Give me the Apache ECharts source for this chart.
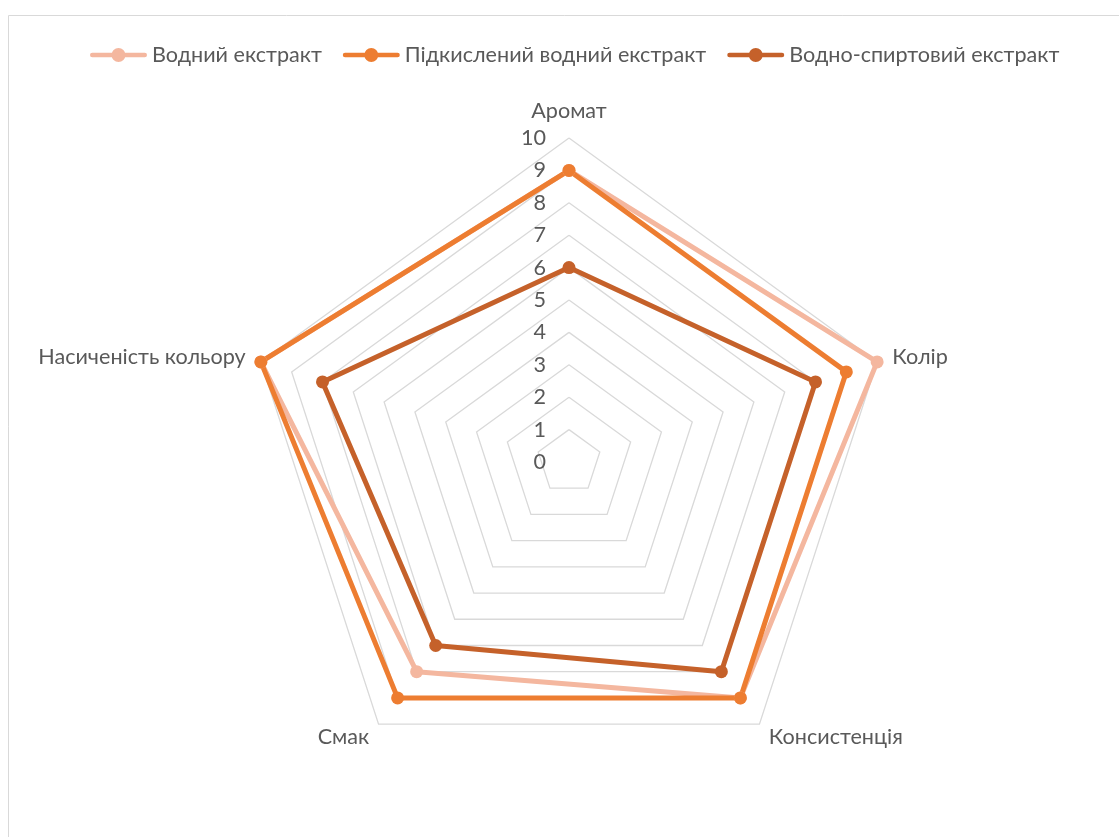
<!DOCTYPE html>
<html><head><meta charset="utf-8">
<script src="https://cdn.jsdelivr.net/npm/echarts@6/dist/echarts.min.js"></script>
<style>html,body{margin:0;padding:0;background:#fff}#c{width:1119px;height:837px}</style>
</head><body><div id="c"></div>
<script>
// Categories in their natural (clockwise) order
const indicators = ['Аромат', 'Колір', 'Консистенція', 'Смак', 'Насиченість кольору'];
const seriesNames = ['Водний екстракт', 'Підкислений водний екстракт', 'Водно-спиртовий екстракт'];
const vodnyi = [9, 10, 9, 8, 10];
const pidkyslenyi = [9, 9, 9, 9, 10];
const vodnoSpyrtovyi = [6, 8, 8, 7, 8];
const axisMax = 10;
const colors = ['#F4B79F', '#ED7D31', '#C5612A'];
const FONT = 'Lato, "Open Sans", sans-serif';

// ECharts radar runs counter-clockwise: keep first, reverse the rest
const toCCW = arr => [arr[0]].concat(arr.slice(1).reverse());

const legendIcon = 'path://M2,4.75 L55,4.75 A2.25,2.25 0 0,1 55,9.25 L2,9.25 A2.25,2.25 0 0,1 2,4.75 Z M21.5,7 A7,7 0 1,1 35.5,7 A7,7 0 1,1 21.5,7 Z';

const chart = echarts.init(document.getElementById('c'));
const dataSets = [vodnyi, pidkyslenyi, vodnoSpyrtovyi];
const labelColor = '#595959';
const FS = 21.6;
chart.setOption({
  animation: false,
  textStyle: {fontFamily: FONT},
  color: colors,
  graphic: [{type: 'rect', shape: {x: 8.5, y: 15.5, width: 1200, height: 900}, style: {fill: 'none', stroke: '#d9d9d9', lineWidth: 1}, silent: true}],
  legend: {
    top: 39, left: 85, itemWidth: 57, itemHeight: 14, itemGap: 21,
    textStyle: {fontSize: FS, color: labelColor, fontFamily: FONT},
    data: seriesNames.map(n => ({name: n, icon: legendIcon}))
  },
  radar: {
    center: [569, 462], radius: 324, startAngle: 90, shape: 'polygon', splitNumber: 10,
    axisName: {color: labelColor, fontSize: FS, fontFamily: FONT},
    nameGap: 16,
    splitArea: {show: false},
    splitLine: {lineStyle: {color: '#d9d9d9', width: 1.3}},
    axisLine: {show: false},
    axisTick: {show: false},
    axisLabel: {show: false},
    indicator: toCCW(indicators).map((n, i) => i === 0
      ? {name: n, min: 0, max: axisMax, axisLabel: {show: true, color: labelColor, fontSize: FS, fontFamily: FONT, margin: 23}}
      : {name: n, min: 0, max: axisMax})
  },
  series: dataSets.map((d, i) => ({
    type: 'radar', name: seriesNames[i],
    symbol: 'circle', symbolSize: 13,
    lineStyle: {width: 5, color: colors[i]},
    itemStyle: {color: colors[i]},
    data: [{value: toCCW(d), name: seriesNames[i]}]
  }))
});
</script></body></html>
